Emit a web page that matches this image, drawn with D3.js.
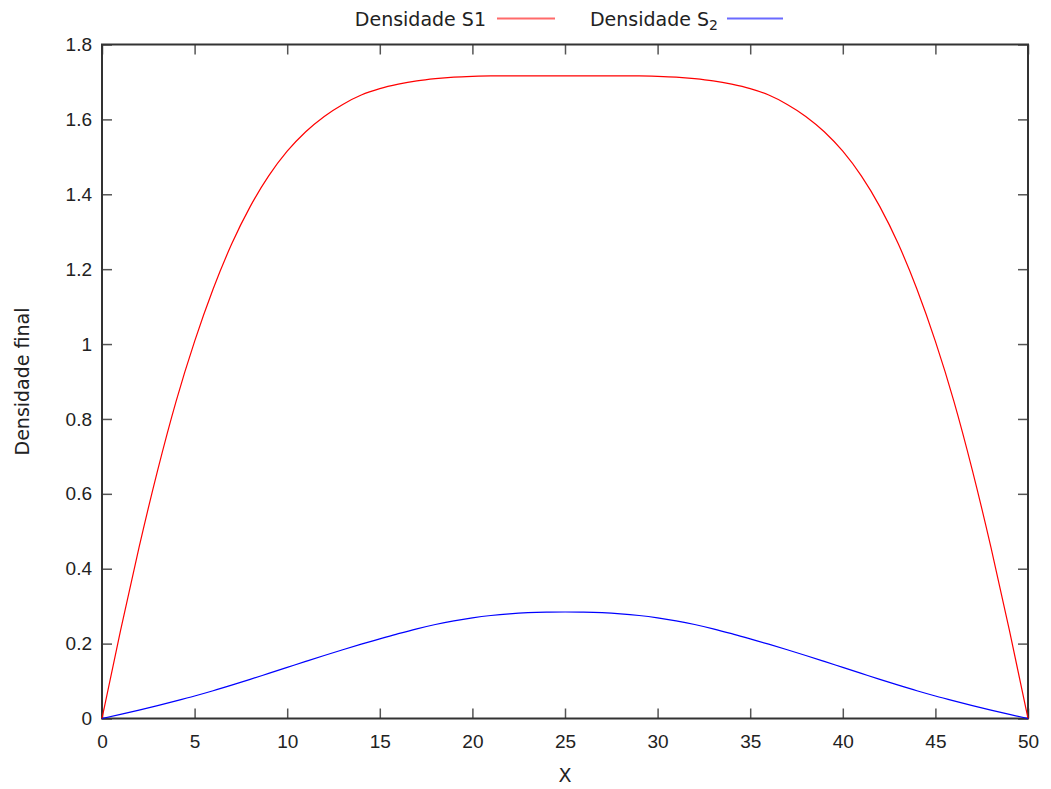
<!DOCTYPE html>
<html>
<head>
<meta charset="utf-8">
<script src="https://cdn.jsdelivr.net/npm/d3@7"></script>
<style>
  body { margin: 0; background: #fff; }
  svg { display: block; font-family: "DejaVu Sans", sans-serif; }
</style>
</head>
<body>
<div id="chart"></div>
<script>
// data
const xValues = d3.range(0, 51);

const s1Values = [
  0, 0.235, 0.457, 0.662, 0.847, 1.007, 1.147, 1.267, 1.367, 1.449,
  1.515, 1.567, 1.608, 1.640, 1.665, 1.682, 1.694, 1.703, 1.709, 1.713,
  1.715, 1.716, 1.716, 1.716, 1.716, 1.716, 1.716, 1.716, 1.716, 1.716,
  1.715, 1.713, 1.709, 1.703, 1.694, 1.682, 1.665, 1.640, 1.608, 1.567,
  1.515, 1.449, 1.367, 1.267, 1.147, 1.007, 0.847, 0.662, 0.457, 0.235, 0
];

const s2Values = [
  0, 0.011, 0.0225, 0.0345, 0.047, 0.060, 0.074, 0.089, 0.1045, 0.1205,
  0.1365, 0.1525, 0.1683, 0.1837, 0.1985, 0.2125, 0.2265, 0.2395, 0.251, 0.2607,
  0.2687, 0.275, 0.2796, 0.2826, 0.284, 0.2844, 0.284, 0.2826, 0.2796, 0.275,
  0.2687, 0.2607, 0.251, 0.2395, 0.2265, 0.2125, 0.1985, 0.1837, 0.1683, 0.1525,
  0.1365, 0.1205, 0.1045, 0.089, 0.074, 0.060, 0.047, 0.0345, 0.0225, 0.011, 0
];

const xTicks = [0, 5, 10, 15, 20, 25, 30, 35, 40, 45, 50];
const yTicks = [0, 0.2, 0.4, 0.6, 0.8, 1, 1.2, 1.4, 1.6, 1.8];
const yTickLabels = ["0", "0.2", "0.4", "0.6", "0.8", "1", "1.2", "1.4", "1.6", "1.8"];

const W = 1051, H = 789;
const plotLeft = 102, plotRight = 1028, plotTop = 44.5, plotBottom = 718.5;
const fontSize = 19;

const svg = d3.select("#chart").append("svg")
  .attr("width", W)
  .attr("height", H);

const x = d3.scaleLinear().domain([0, 50]).range([plotLeft, plotRight]);
const y = d3.scaleLinear().domain([0, 1.8]).range([plotBottom, plotTop]);

// axes, ticks pointing inward (gnuplot style, mirrored)
const styleAxis = (g) => {
  g.select(".domain").remove();
  g.selectAll(".tick line").attr("stroke", "#555").attr("stroke-width", 1.5);
  g.selectAll(".tick text").attr("fill", "#222").attr("font-size", fontSize);
};

svg.append("g")
  .attr("transform", `translate(0,${plotBottom})`)
  .call(d3.axisBottom(x).tickValues(xTicks).tickSize(-10).tickPadding(16))
  .call(styleAxis);

svg.append("g")
  .attr("transform", `translate(0,${plotTop})`)
  .call(d3.axisTop(x).tickValues(xTicks).tickSize(-10).tickFormat(""))
  .call(styleAxis);

svg.append("g")
  .attr("transform", `translate(${plotLeft},0)`)
  .call(d3.axisLeft(y).tickValues(yTicks).tickSize(-10).tickPadding(10)
    .tickFormat((d, i) => yTickLabels[i]))
  .call(styleAxis);

svg.append("g")
  .attr("transform", `translate(${plotRight},0)`)
  .call(d3.axisRight(y).tickValues(yTicks).tickSize(-10).tickFormat(""))
  .call(styleAxis);

// frame
svg.append("rect")
  .attr("x", plotLeft)
  .attr("y", plotTop)
  .attr("width", plotRight - plotLeft)
  .attr("height", plotBottom - plotTop)
  .attr("fill", "none")
  .attr("stroke", "#333")
  .attr("stroke-width", 2);

// curves
const line = d3.line()
  .x((d, i) => x(xValues[i]))
  .y((d) => y(d))
  .curve(d3.curveMonotoneX);

svg.append("path")
  .attr("d", line(s1Values))
  .attr("fill", "none")
  .attr("stroke", "#ff0000")
  .attr("stroke-width", 1.2);

svg.append("path")
  .attr("d", line(s2Values))
  .attr("fill", "none")
  .attr("stroke", "#0000ff")
  .attr("stroke-width", 1.2);

// axis titles
svg.append("text")
  .attr("x", (plotLeft + plotRight) / 2)
  .attr("y", 782)
  .attr("text-anchor", "middle")
  .attr("font-size", fontSize)
  .attr("fill", "#222")
  .text("X");

svg.append("text")
  .attr("transform", `translate(29,${(plotTop + plotBottom) / 2}) rotate(-90)`)
  .attr("text-anchor", "middle")
  .attr("font-size", fontSize)
  .attr("fill", "#222")
  .text("Densidade final");

// legend
const legend = svg.append("g").attr("font-size", fontSize).attr("fill", "#222");

legend.append("text")
  .attr("x", 486)
  .attr("y", 26)
  .attr("text-anchor", "end")
  .text("Densidade S1");

legend.append("line")
  .attr("x1", 497).attr("x2", 555)
  .attr("y1", 18.5).attr("y2", 18.5)
  .attr("stroke", "#ff6a6a")
  .attr("stroke-width", 2);

const t2 = legend.append("text")
  .attr("x", 718)
  .attr("y", 26)
  .attr("text-anchor", "end");
t2.append("tspan").text("Densidade S");
t2.append("tspan").attr("font-size", 14).attr("dy", 4).text("2");

legend.append("line")
  .attr("x1", 727).attr("x2", 783)
  .attr("y1", 18.5).attr("y2", 18.5)
  .attr("stroke", "#6a6aff")
  .attr("stroke-width", 2);
</script>
</body>
</html>
